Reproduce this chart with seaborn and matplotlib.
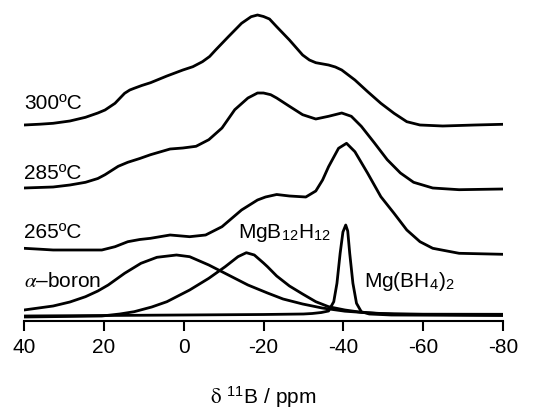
import numpy as np
import matplotlib
matplotlib.use("Agg")
import matplotlib.pyplot as plt
import seaborn as sns

# 11B MAS NMR spectra: chemical shift (ppm) and intensity (arbitrary units)
# reference compounds, common baseline
boron_ppm = [40, 32.7, 28.5, 24.6, 21.5, 18.9, 14.8, 10.7, 6.7, 1.8, -1.5, -6.3,
             -11.2, -16.1, -21.0, -24.9, -29.8, -34.7, -40.4, -48.6, -60, -80]
boron_int = [7, 11, 15, 20.3, 26, 32, 43.7, 53.7, 59.7, 62, 60.3, 52,
             42, 32, 24, 18, 13, 9, 5.8, 3.5, 2.8, 2.7]

b12_ppm = [40, 30, 20.5, 16, 12.4, 8, 4.2, -1.5, -6.3, -10.4, -13.6, -15.7, -17.7,
           -20, -21, -23.3, -26.5, -29.8, -33.1, -36.3, -40.4, -44.5, -52.7, -80]
b12_int = [0, 0.5, 1, 3, 5.3, 10, 15.3, 27, 38.7, 50.3, 60.3, 64.3, 62,
           54, 50.3, 41, 31, 23, 15.3, 10.3, 7, 4.7, 2.7, 2]

bh4_ppm = [40, 20, 0, -20, -30, -32.2, -34.5, -36.3, -37.6, -38.4, -39.2, -39.9,
           -40.6, -41.1, -41.6, -42.4, -43.3, -44.5, -46.5, -52, -80]
bh4_int = [1, 1.5, 2, 2.5, 3, 3.5, 4.5, 6, 15.3, 33.7, 63.7, 85,
           92, 86, 63.7, 33.7, 13.7, 5.3, 3, 2, 1.5]

# heated samples, intensity above each spectrum's own baseline
t265_ppm = [40, 36, 32.7, 26, 20.5, 17.2, 14, 11, 8.3, 3.4, -1.5, -5.5, -9.6, -14.5,
            -18.5, -20.5, -23.3, -26.5, -30.6, -33.1, -34.8, -36.3, -38.8, -40.8,
            -42.9, -46.1, -49.4, -52.7, -55.9, -59.2, -62.4, -69, -80]
t265_int = [1.7, 0.8, 0, 0, 0, 3.3, 8.3, 10.5, 11.7, 15, 13.3, 15, 23.3, 40,
            50, 53, 55.5, 54, 53, 59, 70, 83.3, 101.7, 106.7,
            98.3, 76.7, 53.3, 36.7, 20, 8.3, 1.7, -3.3, -4.3]

t285_ppm = [40, 32.7, 28.5, 24.6, 21.5, 19.7, 16.4, 14, 11, 8.3, 3.4, 0.2, -3.1, -6.3,
            -9.6, -12.8, -16.1, -18.5, -20, -21.8, -23.3, -26.5, -29.8, -33.1, -36.3,
            -39.6, -42, -44.5, -47.8, -51, -54.3, -57.6, -62.4, -69, -80]
t285_int = [0, 1, 3, 5.7, 9.5, 13.3, 21.7, 25.7, 29.5, 33.3, 39, 40, 41.7, 48.3,
            60, 78.3, 90, 95, 95, 93.3, 90, 81.7, 73.3, 69, 71.7,
            75, 71.7, 61.7, 45, 28.3, 15, 5.7, 0, -1.7, -1]

t300_ppm = [40, 36, 32.7, 28.5, 24.6, 21.5, 19.7, 17.2, 14.8, 13.5, 12.4, 10.5, 8.3,
            4.2, 0.2, -2.3, -4.7, -6.5, -8, -11.2, -14.5, -16.9, -18.5, -20, -21.5,
            -23.3, -26.5, -29.8, -31.5, -33.1, -36.3, -38, -39.6, -42.9, -46.1,
            -49.4, -52.7, -55.9, -59.2, -64.9, -73, -80]
t300_int = [0, 0.8, 1.7, 4, 7.7, 12, 15, 21.7, 31.7, 35, 36.7, 39.5, 42.3,
            49, 55, 58.3, 63.3, 68.5, 75, 88.3, 101.7, 108.3, 110, 108.5, 106,
            98.3, 85, 70, 65, 62.3, 60, 58, 55, 45, 33.3,
            21.7, 11.7, 3.3, 0, -1, 0, 0.7]

stack_offset = {"265": 67, "285": 129, "300": 192}

sns.set_style("ticks")
plt.rcParams["font.family"] = ["Liberation Sans", "DejaVu Sans"]
plt.rcParams["mathtext.fontset"] = "stix"
plt.rcParams["axes.unicode_minus"] = False
plt.rcParams["text.color"] = "black"
plt.rcParams["axes.labelcolor"] = "black"
plt.rcParams["axes.edgecolor"] = "black"
plt.rcParams["xtick.color"] = "black"

fig = plt.figure(figsize=(5.35, 4.13), dpi=100)
ax = fig.add_axes([24 / 535, 1 - 321 / 413, 479 / 535, 316 / 413])

lw = 2.0
for xs, ys in [(boron_ppm, boron_int), (b12_ppm, b12_int), (bh4_ppm, bh4_int)]:
    sns.lineplot(x=xs, y=ys, ax=ax, color="black", lw=lw, sort=False, estimator=None)
for key, xs, ys in [("265", t265_ppm, t265_int), ("285", t285_ppm, t285_int),
                    ("300", t300_ppm, t300_int)]:
    yy = np.array(ys) + stack_offset[key]
    sns.lineplot(x=xs, y=yy, ax=ax, color="black", lw=lw, sort=False, estimator=None)

fs = 15
ax.text(40, 207.7, "300ºC", fontsize=fs, va="baseline", ha="left")
ax.text(40, 137.7, "285ºC", fontsize=fs, va="baseline", ha="left")
ax.text(40, 78.7, "265ºC", fontsize=fs, va="baseline", ha="left")
ax.text(40, 29.7, r"$\alpha$–boron", fontsize=fs, va="baseline", ha="left")
ax.text(-13.5, 78.7, r"MgB$_{\mathregular{12}}$H$_{\mathregular{12}}$", fontsize=fs,
        va="baseline", ha="left")
ax.text(-45.2, 29.7, r"Mg(BH$_{\mathregular{4}}$)$_{\mathregular{2}}$", fontsize=fs,
        va="baseline", ha="left")

ax.set_xlim(40, -80)
ax.set_ylim(-4, 312)
ax.set_xticks([40, 20, 0, -20, -40, -60, -80])
ax.set_yticks([])
ax.tick_params(axis="x", direction="out", length=7, width=1.5, labelsize=fs, pad=5,
               colors="black")
sns.despine(ax=ax, left=True)
ax.spines["bottom"].set_linewidth(1.5)
ax.spines["bottom"].set_color("black")
ax.set_xlabel(r"$\mathrm{\delta}$ $^{\mathregular{11}}$B / ppm", fontsize=fs, labelpad=20)
ax.set_ylabel("")

fig.savefig("out.png", dpi=100)
